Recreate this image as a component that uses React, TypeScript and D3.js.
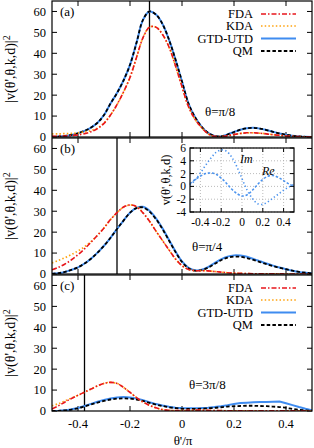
import React from 'react';
import * as d3 from 'd3';

// sampling grid of theta'/pi used for every main-panel curve
const thetaGrid = [-0.5, -0.475, -0.45, -0.425, -0.4, -0.375, -0.35, -0.325, -0.3, -0.275, -0.25, -0.225, -0.2, -0.175, -0.15, -0.125, -0.1, -0.075, -0.05, -0.025, 0, 0.025, 0.05, 0.075, 0.1, 0.125, 0.15, 0.175, 0.2, 0.225, 0.25, 0.275, 0.3, 0.325, 0.35, 0.375, 0.4, 0.425, 0.45, 0.475, 0.5];

// (a) theta = pi/8
const fdaA = [0.4, 0.4, 0.5, 0.7, 1.0, 1.6, 2.5, 4.0, 6.5, 10.5, 15.5, 21.5, 28.5, 38, 47.5, 52.5, 52.5, 49, 43, 34, 24, 14.5, 8.5, 4.5, 1.6, 0.3, 0.2, 0.6, 1.2, 1.7, 2.0, 2.0, 1.8, 1.5, 1.1, 0.8, 0.5, 0.3, 0.2, 0.1, 0];
const kdaA = [1.5, 1.5, 1.6, 1.7, 2.0, 2.4, 3.1, 4.3, 6.7, 10.5, 15.5, 21.5, 28.5, 38, 47.5, 52.5, 52.5, 49, 43, 34, 24, 14.5, 8.5, 4.5, 1.6, 0.3, 0.2, 0.6, 1.2, 1.7, 2.0, 2.0, 1.8, 1.5, 1.1, 0.8, 0.5, 0.3, 0.2, 0.1, 0];
const gtdA = [0, 0.2, 0.5, 1.0, 1.8, 2.9, 4.5, 6.8, 10.5, 16, 21, 27, 34.5, 45, 56, 60, 58.5, 54, 46.5, 37, 26.5, 16, 9.5, 5, 2, 0.5, 0.3, 1.2, 2.4, 3.5, 4.2, 4.4, 4.0, 3.3, 2.5, 1.7, 1.1, 0.6, 0.3, 0.1, 0];
const qmA = [0, 0.2, 0.5, 1.0, 1.8, 2.9, 4.5, 6.8, 10.5, 16, 21, 27, 34.5, 45, 56, 60, 58.5, 54, 46.5, 37, 26.5, 16, 9.5, 5, 2, 0.5, 0.3, 1.2, 2.4, 3.5, 4.2, 4.4, 4.0, 3.3, 2.5, 1.7, 1.1, 0.6, 0.3, 0.1, 0];

// (b) theta = pi/4
const fdaB = [2.0, 3.2, 4.8, 6.8, 9.2, 12.0, 15.2, 18.5, 22, 26, 29.3, 32, 33, 32.2, 29.2, 25.2, 20.5, 16, 11.5, 7.2, 4.0, 2.2, 1.6, 1.6, 1.5, 1.2, 0.9, 0.6, 0.4, 0.3, 0.2, 0.1, 0.1, 0.1, 0.1, 0.1, 0, 0, 0, 0, 0];
const kdaB = [5.3, 6.5, 7.8, 9.3, 11, 13, 15.5, 18.5, 22, 26, 29.3, 32, 33, 32.2, 29.2, 25.2, 20.5, 16, 11.5, 7.2, 4.0, 2.2, 1.6, 1.6, 1.5, 1.2, 0.9, 0.6, 0.4, 0.3, 0.2, 0.1, 0.1, 0.1, 0.1, 0.1, 0, 0, 0, 0, 0];
const gtdB = [0.1, 0.4, 1.0, 2.0, 3.2, 5.0, 7.3, 10.2, 13.5, 17.3, 21.5, 25.5, 29.3, 31.6, 32.1, 30.2, 26.6, 21.8, 16.3, 10.8, 6.0, 3.0, 1.8, 2.0, 3.3, 5.2, 7.0, 8.3, 8.9, 8.8, 8.2, 7.2, 6.1, 5.0, 4.0, 3.1, 2.3, 1.6, 1.0, 0.6, 0.3];
const qmB = [0.1, 0.4, 1.0, 2.0, 3.2, 5.0, 7.3, 10.2, 13.5, 17.3, 21.5, 25.5, 29.3, 31.5, 31.8, 29.8, 26.2, 21.5, 16, 10.5, 5.8, 2.8, 1.6, 1.8, 3.0, 4.8, 6.6, 7.8, 8.3, 8.2, 7.6, 6.7, 5.7, 4.7, 3.8, 3.0, 2.3, 1.6, 1.0, 0.6, 0.3];

// (c) theta = 3pi/8
const fdaC = [1.0, 2.5, 4.3, 6.0, 7.5, 9.0, 10.5, 12.0, 13.2, 13.7, 13.2, 11.3, 8.9, 6.4, 4.3, 2.7, 1.5, 0.7, 0.3, 0.2, 0.2, 0.3, 0.4, 0.4, 0.3, 0.2, 0.2, 0.1, 0.1, 0.1, 0.1, 0.1, 0.1, 0.1, 0.1, 0.1, 0.1, 0.1, 0.1, 0.1, 0.1];
const kdaC = [2.5, 3.5, 4.8, 6.2, 7.5, 9.0, 10.5, 12.0, 13.2, 13.7, 13.2, 11.3, 8.9, 6.4, 4.3, 2.7, 1.5, 0.7, 0.3, 0.2, 0.2, 0.3, 0.4, 0.4, 0.3, 0.2, 0.2, 0.1, 0.1, 0.1, 0.1, 0.1, 0.1, 0.1, 0.1, 0.1, 0.1, 0.1, 0.1, 0.1, 0.1];
const gtdC = [0, 0.1, 0.3, 0.8, 1.4, 2.4, 3.4, 4.4, 5.3, 6.0, 6.5, 6.7, 6.5, 6.0, 5.2, 4.2, 3.3, 2.6, 2.0, 1.6, 1.4, 1.3, 1.3, 1.4, 1.6, 1.9, 2.3, 2.8, 3.4, 3.8, 4.0, 4.2, 4.3, 4.35, 4.4, 4.5, 3.7, 2.8, 1.9, 1.1, 0.4];
const qmC = [0, 0.1, 0.3, 0.7, 1.3, 2.2, 3.1, 4.0, 4.8, 5.5, 5.9, 6.0, 5.9, 5.5, 4.8, 3.9, 3.1, 2.4, 1.8, 1.4, 1.1, 1.0, 1.0, 1.1, 1.3, 1.5, 1.8, 2.1, 2.3, 2.4, 2.5, 2.5, 2.4, 2.3, 2.1, 1.9, 1.5, 1.0, 0.6, 0.3, 0.1];

// inset of panel (b): amplitude v
const insetGrid = [-0.5, -0.45, -0.4, -0.35, -0.3, -0.25, -0.2, -0.15, -0.1, -0.05, 0, 0.05, 0.1, 0.15, 0.2, 0.25, 0.3, 0.35, 0.4, 0.45, 0.5];
const imPart = [0.2, 1.0, 2.1, 3.3, 4.4, 5.3, 5.7, 5.5, 4.6, 3.1, 1.2, -0.6, -1.9, -2.7, -2.8, -2.4, -1.8, -1.2, -0.6, -0.1, 0.3];
const rePart = [0.4, 1.1, 1.6, 2.0, 2.1, 1.9, 1.3, 0.5, -0.4, -1.1, -1.5, -1.3, -0.6, 0.3, 1.1, 1.6, 1.7, 1.4, 0.9, 0.4, 0.0];

const panelLetters = ['(a)', '(b)', '(c)'];
const thetaLabels = ['θ=π/8', 'θ=π/4', 'θ=3π/8'];
const specularX = [-0.125, -0.25, -0.375];
const seriesNames = ['FDA', 'KDA', 'GTD-UTD', 'QM'];
const yTicks = [0, 10, 20, 30, 40, 50, 60];
const xTicks = [-0.4, -0.2, 0, 0.2, 0.4];
const insetYTicks = [-4, -2, 0, 2, 4, 6];

const panelData = [
  [fdaA, kdaA, gtdA, qmA],
  [fdaB, kdaB, gtdB, qmB],
  [fdaC, kdaC, gtdC, qmC],
];

const seriesStyle = [
  { color: '#e8161c', dash: '5,2,1.5,2', width: 1.6 },
  { color: '#ffa30f', dash: '1.5,2.2', width: 1.7 },
  { color: '#3f8cf0', dash: 'none', width: 2 },
  { color: '#000000', dash: '3.5,2.2', width: 1.8 },
];
// draw order: blue underneath, black dashed over it, then KDA and FDA
const drawOrder = [2, 3, 1, 0];

const FONT = "'Liberation Serif', 'DejaVu Serif', serif";
const W = 314;
const H = 448;
const X0 = 52;
const X1 = 312;
const PANEL_H = 136;
const panelTop = [1, 138, 275];
const TICK = 5;

const x = d3.scaleLinear().domain([-0.5, 0.5]).range([X0, X1]);

function Panel({ idx }: { idx: number }) {
  const top = panelTop[idx];
  const bottom = top + PANEL_H;
  const y = d3.scaleLinear().domain([0, 65]).range([bottom, top]);
  const clipId = `clip-${idx}`;

  const line = (vals: number[], linear: boolean) =>
    d3.line<number>()
      .x((_, i) => x(thetaGrid[i]))
      .y(d => y(d))
      .curve(linear ? d3.curveLinear : d3.curveCatmullRom.alpha(0.5))(vals) || '';

  const showLegend = idx !== 1;
  const legendY = [13, 25, 37.5, 50].map(v => top + v);

  return (
    <g>
      <defs>
        <clipPath id={clipId}>
          <rect x={X0} y={top} width={X1 - X0} height={PANEL_H} />
        </clipPath>
      </defs>
      {/* ticks */}
      {yTicks.map(t => (
        <g key={'y' + t}>
          <line x1={X0} x2={X0 + TICK} y1={y(t)} y2={y(t)} stroke="#000" strokeWidth={1} />
          <line x1={X1} x2={X1 - TICK} y1={y(t)} y2={y(t)} stroke="#000" strokeWidth={1} />
          <text x={46} y={y(t)} dy="0.35em" textAnchor="end" fontSize={12.5}>{t}</text>
        </g>
      ))}
      {xTicks.map(t => (
        <g key={'x' + t}>
          <line x1={x(t)} x2={x(t)} y1={bottom} y2={bottom - TICK} stroke="#000" strokeWidth={1} />
          <line x1={x(t)} x2={x(t)} y1={top} y2={top + TICK} stroke="#000" strokeWidth={1} />
        </g>
      ))}
      {/* specular direction */}
      <line x1={x(specularX[idx])} x2={x(specularX[idx])} y1={top} y2={bottom} stroke="#000" strokeWidth={1.3} />
      <g clipPath={`url(#${clipId})`}>
        {drawOrder.map(s => (
          <path key={s} d={line(panelData[idx][s], idx === 2 && s === 2)} fill="none"
            stroke={seriesStyle[s].color} strokeWidth={seriesStyle[s].width}
            strokeDasharray={seriesStyle[s].dash} />
        ))}
      </g>
      <text x={60} y={top + 15} fontSize={13}>{panelLetters[idx]}</text>
      <text x={idx === 0 ? 205 : idx === 1 ? 192 : 189} y={idx === 0 ? 116 : idx === 1 ? 251 : 389} fontSize={13}>{thetaLabels[idx]}</text>
      {showLegend && seriesNames.map((name, s) => (
        <g key={name}>
          <text x={253} y={legendY[s]} dy="0.35em" textAnchor="end" fontSize={12.5}>{name}</text>
          <line x1={261} x2={296} y1={legendY[s]} y2={legendY[s]} stroke={seriesStyle[s].color}
            strokeWidth={seriesStyle[s].width} strokeDasharray={seriesStyle[s].dash} />
        </g>
      ))}
      <text transform={`translate(15,${(top + bottom) / 2}) rotate(-90)`} textAnchor="middle" fontSize={14}>
        |v(θ',θ,k,d)|<tspan dy={-5} fontSize={10}>2</tspan>
      </text>
      <rect x={X0} y={top} width={X1 - X0} height={PANEL_H} fill="none" stroke="#000" strokeWidth={1.2} />
    </g>
  );
}

function Inset() {
  const L = 190, R = 294, T = 148, B = 212;
  const xi = d3.scaleLinear().domain([-0.5, 0.5]).range([L, R]);
  const yi = d3.scaleLinear().domain([-4, 6]).range([B, T]);
  const ln = d3.line<number>().x((_, i) => xi(insetGrid[i])).y(d => yi(d)).curve(d3.curveCatmullRom.alpha(0.5));
  const blue = '#4b93ee';
  return (
    <g>
      <rect x={L} y={T} width={R - L} height={B - T} fill="#fff" />
      {xTicks.map(t => (
        <g key={'gx' + t}>
          <line x1={xi(t)} x2={xi(t)} y1={T} y2={B} stroke="#aaa" strokeWidth={0.8} strokeDasharray="1,2" />
          <line x1={xi(t)} x2={xi(t)} y1={B} y2={B - 4} stroke="#000" />
          <line x1={xi(t)} x2={xi(t)} y1={T} y2={T + 4} stroke="#000" />
          <text x={xi(t)} y={226} textAnchor="middle" fontSize={11.5}>{t}</text>
        </g>
      ))}
      {insetYTicks.map(t => (
        <g key={'gy' + t}>
          <line x1={L} x2={R} y1={yi(t)} y2={yi(t)} stroke="#aaa" strokeWidth={0.8} strokeDasharray="1,2" />
          <line x1={L} x2={L + 4} y1={yi(t)} y2={yi(t)} stroke="#000" />
          <line x1={R} x2={R - 4} y1={yi(t)} y2={yi(t)} stroke="#000" />
          <text x={186} y={yi(t)} dy="0.35em" textAnchor="end" fontSize={11.5}>{t}</text>
        </g>
      ))}
      <path d={ln(imPart) || ''} fill="none" stroke={blue} strokeWidth={1.6} strokeDasharray="1.3,2.4" />
      <path d={ln(rePart) || ''} fill="none" stroke={blue} strokeWidth={1.6} strokeDasharray="2.4,1.8" />
      <text x={240} y={163} fontSize={12} fontStyle="italic">Im</text>
      <text x={262} y={175} fontSize={12} fontStyle="italic">Re</text>
      <rect x={L} y={T} width={R - L} height={B - T} fill="none" stroke="#000" strokeWidth={1.2} />
      <text transform={`translate(170,180) rotate(-90)`} textAnchor="middle" fontSize={12.5}>v(θ',θ,k,d)</text>
    </g>
  );
}

export default function App() {
  return (
    <svg width={W} height={H} style={{ position: 'absolute', left: 0, top: 0, background: '#fff' }}
      fontFamily={FONT}>
      {[0, 1, 2].map(i => <Panel key={i} idx={i} />)}
      <Inset />
      {xTicks.map(t => (
        <text key={t} x={x(t)} y={428} textAnchor="middle" fontSize={12.5}>{t}</text>
      ))}
      <text x={183} y={445} textAnchor="middle" fontSize={13}>θ'/π</text>
    </svg>
  );
}
